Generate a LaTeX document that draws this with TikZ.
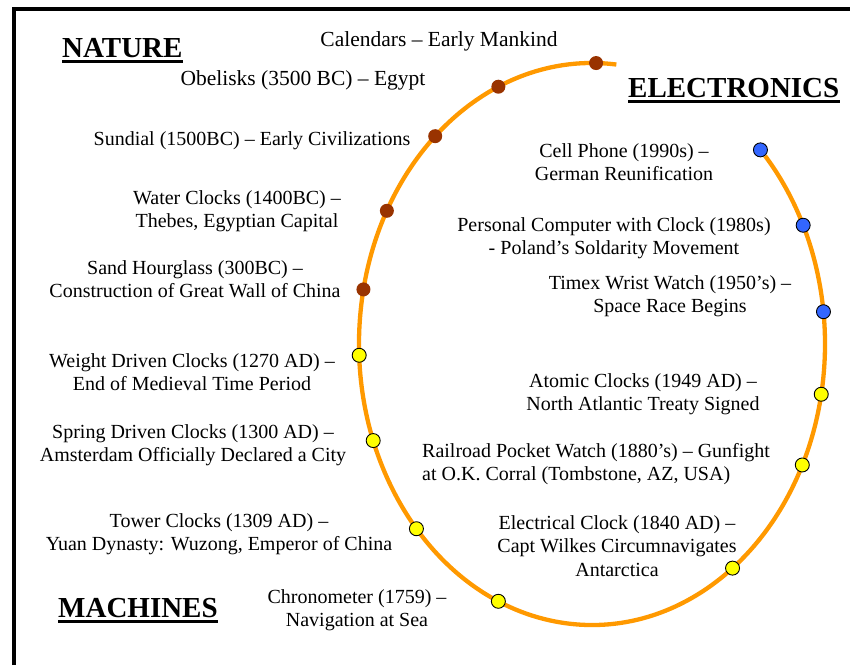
\documentclass[tikz,border=0pt]{standalone}
\usepackage{fontspec}
\setmainfont{Liberation Serif}
\usetikzlibrary{calc}
\definecolor{ringorange}{HTML}{FF9900}
\definecolor{natbrown}{HTML}{993300}
\definecolor{machyellow}{HTML}{FFFF00}
\definecolor{elecblue}{HTML}{3366FF}
\tikzset{
  evt/.style={font=\fontsize{20}{23.5}\selectfont, align=center, inner sep=0pt},
  bigevt/.style={evt, font=\fontsize{21.5}{23.5}\selectfont},
  head/.style={font=\fontsize{29}{31}\selectfont\bfseries, inner sep=0pt, anchor=base west},
  natdot/.style={circle, fill=natbrown, minimum size=14pt, inner sep=0pt},
  machdot/.style={circle, draw=black, line width=0.9pt, fill=machyellow, minimum size=14pt, inner sep=0pt},
  elecdot/.style={circle, draw=black, line width=0.9pt, fill=elecblue, minimum size=14pt, inner sep=0pt}
}
\begin{document}
\begin{tikzpicture}[x=1pt,y=-1pt]
    \useasboundingbox (0,0) rectangle (850,665);
    % frame
    \draw [line width=4pt] (13.5,665)--(13.5,9)--(850,9);

    % the ring
    \coordinate (c) at (592,344);
    \draw [ringorange,line width=4.3pt] ($(c)+(-84:233 and 281)$) arc[start angle=-84,end angle=-402,x radius=233,y radius=281];

    % headings
    \node [head] (nature) at (62,57) {NATURE};
    \node [head] (electronics) at (628,97) {ELECTRONICS};
    \node [head] (machines) at (58,617) {MACHINES};
    \draw [line width=3pt] ([yshift=-4pt]nature.base west)--([yshift=-4pt]nature.base east);
    \draw [line width=3pt] ([yshift=-4pt]electronics.base west)--([yshift=-4pt]electronics.base east);
    \draw [line width=3pt] ([yshift=-4pt]machines.base west)--([yshift=-4pt]machines.base east);

    % nature
    \node [natdot] (calendars) at ($(c)+(-89:233 and 281)$) {};
    \node [natdot] (obelisks) at ($(c)+(-113.7:233 and 281)$) {};
    \node [natdot] (sundial) at ($(c)+(-132.3:233 and 281)$) {};
    \node [natdot] (water) at ($(c)+(-151.7:233 and 281)$) {};
    \node [natdot] (hourglass) at ($(c)+(-168.8:233 and 281)$) {};

    % machines
    \node [machdot] (weight) at ($(c)+(-182.3:233 and 281)$) {};
    \node [machdot] (spring) at ($(c)+(-200.1:233 and 281)$) {};
    \node [machdot] (tower) at ($(c)+(-221.1:233 and 281)$) {};
    \node [machdot] (chrono) at ($(c)+(-246.3:233 and 281)$) {};
    \node [machdot] (electrical) at ($(c)+(-307.1:233 and 281)$) {};
    \node [machdot] (railroad) at ($(c)+(-334.5:233 and 281)$) {};
    \node [machdot] (atomic) at ($(c)+(-349.7:233 and 281)$) {};

    % electronics
    \node [elecdot] (timex) at ($(c)+(-6.6:233 and 281)$) {};
    \node [elecdot] (pc) at ($(c)+(-25:233 and 281)$) {};
    \node [elecdot] (cell) at ($(c)+(-43.7:233 and 281)$) {};

    % labels
    \node [bigevt] (calendarst) at (439,41) {Calendars -- Early Mankind};
    \node [bigevt] (obeliskst) at (303,80) {Obelisks (3500 BC) -- Egypt};
    \node [evt] (sundialt) at (252,141) {Sundial (1500BC) -- Early Civilizations};
    \node [evt] (watert) at (237,211) {Water Clocks (1400BC) --\\Thebes, Egyptian Capital};
    \node [evt] (hourglasst) at (195,279) {Sand Hourglass (300BC) --\\Construction of Great Wall of China};
    \node [evt] (weightt) at (192,372) {Weight Driven Clocks (1270 AD) --\\End of Medieval Time Period};
    \node [evt] (springt) at (193,445) {Spring Driven Clocks (1300 AD) --\\Amsterdam Officially Declared a City};
    \node [evt] (towert) at (219,534) {Tower Clocks (1309 AD) --\\Yuan Dynasty: Wuzong, Emperor of China};
    \node [evt] (chronot) at (357,610) {Chronometer (1759) --\\Navigation at Sea};
    \node [evt] (cellt) at (624,162) {Cell Phone (1990s) --\\German Reunification};
    \node [evt] (pct) at (614,238) {Personal Computer with Clock (1980s)\\- Poland's Soldarity Movement};
    \node [evt] (timext) at (670,296) {Timex Wrist Watch (1950's) --\\Space Race Begins};
    \node [evt] (atomict) at (643,394) {Atomic Clocks (1949 AD) --\\North Atlantic Treaty Signed};
    \node [evt,align=left,anchor=west] (railroadt) at (422,464) {Railroad Pocket Watch (1880's) -- Gunfight\\at O.K. Corral (Tombstone, AZ, USA)};
    \node [evt] (electricalt) at (617,546) {Electrical Clock (1840 AD) --\\Capt Wilkes Circumnavigates\\Antarctica};
\end{tikzpicture}
\end{document}
